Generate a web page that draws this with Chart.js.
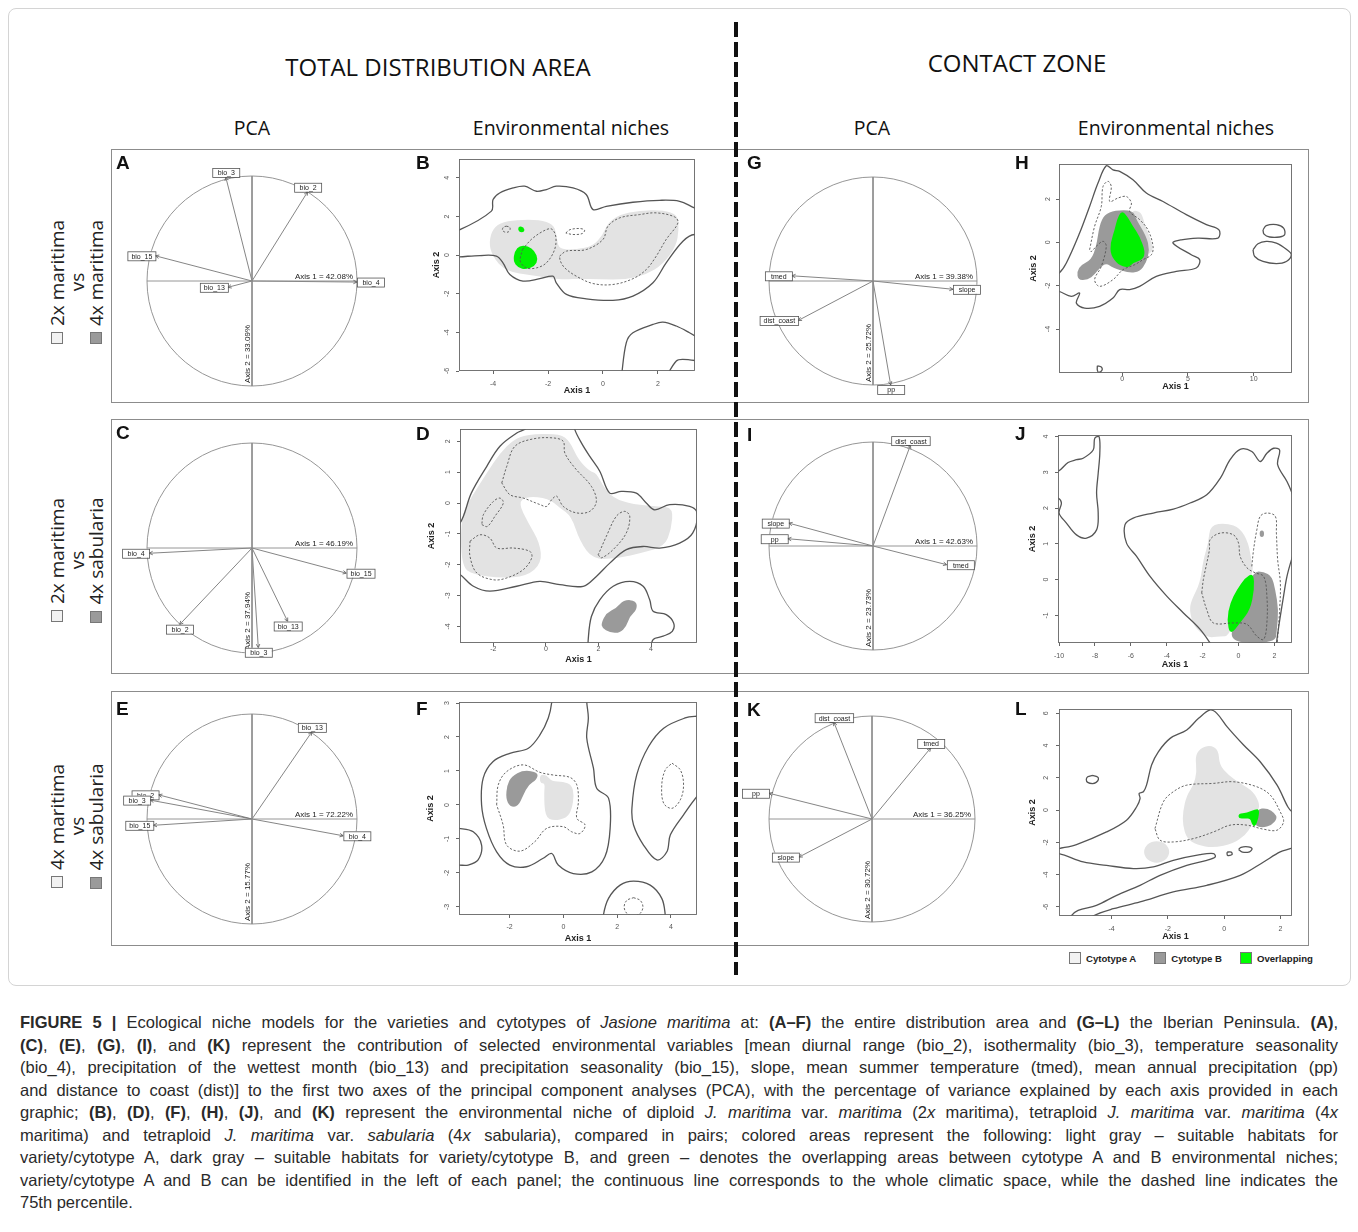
<!DOCTYPE html>
<html>
<head>
<meta charset="utf-8">
<title>Figure 5 - Jasione maritima niche models</title>
<script src="https://cdn.jsdelivr.net/npm/chart.js@4.4.1/dist/chart.umd.min.js"></script>
<style>
  body { margin: 0; background: #fff; width: 1358px; height: 1232px; position: relative; overflow: hidden;
         font-family: "Liberation Sans", Arial, sans-serif; color: #222; }
  .outer { position: absolute; left: 8px; top: 8px; width: 1341px; height: 976px; border: 1px solid #d4d4d4; border-radius: 8px; }
  .frame { position: absolute; left: 111px; width: 1196px; border: 1px solid #8c8c8c; background: #fff; }
  .head { position: absolute; font-family: "Open Sans", sans-serif; color: #111; transform: translateX(-50%); white-space: nowrap; line-height: 1; font-weight: 500; }
  .big { font-size: 24px; }
  .sub { font-size: 19.5px; }
  .letter { position: absolute; font: bold 19px "Liberation Sans", Arial, sans-serif; line-height: 1; color: #111; }
  .rowlab { position: absolute; width: 220px; height: 60px; transform: rotate(-90deg); text-align: center;
            font-family: "Open Sans", sans-serif; font-size: 19px; line-height: 19.5px; font-weight: 500; color: #222; white-space: nowrap; }
  .sq { display: inline-block; width: 10px; height: 10px; border: 1px solid #777; vertical-align: 1px; margin-right: 6px; }
  .sqA { background: #f2f2f2; }
  .sqB { background: #9a9a9a; }
  .sqG { background: #00ff00; }
  .dash { position: absolute; left: 734px; top: 22px; width: 4px; height: 953px;
          background: repeating-linear-gradient(to bottom, #111 0 15px, transparent 15px 20px); }
  .legend { position: absolute; left: 1069px; top: 952px; font: bold 9.6px "Liberation Sans", Arial, sans-serif; color: #222; white-space: nowrap; }
  .legend span { margin-right: 18px; }
  .legend .sq { width: 10px; height: 10px; margin-right: 5px; vertical-align: -2px; }
  .cap { position: absolute; left: 20px; width: 1318px; font-family: "Liberation Sans", Arial, sans-serif; font-size: 16.5px; line-height: 22.5px; color: #2a2a2a; }
  .cap div { white-space: nowrap; }
  canvas { position: absolute; }
</style>
</head>
<body>
<div class="outer"></div>

<div class="head big" style="left:438px; top:55px;">TOTAL DISTRIBUTION AREA</div>
<div class="head big" style="left:1017px; top:51px;">CONTACT ZONE</div>
<div class="head sub" style="left:252px; top:118px;">PCA</div>
<div class="head sub" style="left:571px; top:118px;">Environmental niches</div>
<div class="head sub" style="left:872px; top:118px;">PCA</div>
<div class="head sub" style="left:1176px; top:118px;">Environmental niches</div>

<div class="frame" style="top:149px; height:252px;"></div>
<div class="frame" style="top:419px; height:253px;"></div>
<div class="frame" style="top:691px; height:253px;"></div>

<div class="rowlab" style="left:-32px; top:252px;"><span class="sq sqA"></span>2x maritima<br>vs<br><span class="sq sqB"></span>4x maritima</div>
<div class="rowlab" style="left:-32px; top:530px;"><span class="sq sqA"></span>2x maritima<br>vs<br><span class="sq sqB"></span>4x sabularia</div>
<div class="rowlab" style="left:-32px; top:796px;"><span class="sq sqA"></span>4x maritima<br>vs<br><span class="sq sqB"></span>4x sabularia</div>

<div class="dash"></div>

<div class="legend"><span><i class="sq sqA"></i>Cytotype A</span><span><i class="sq sqB"></i>Cytotype B</span><span style="margin-right:0"><i class="sq sqG"></i>Overlapping</span></div>

<div class="cap" style="top:1011px;">
  <div class="fit"><b>FIGURE 5 |</b> Ecological niche models for the varieties and cytotypes of <i>Jasione maritima</i> at: <b>(A–F)</b> the entire distribution area and <b>(G–L)</b> the Iberian Peninsula. <b>(A)</b>,</div>
  <div class="fit"><b>(C)</b>, <b>(E)</b>, <b>(G)</b>, <b>(I)</b>, and <b>(K)</b> represent the contribution of selected environmental variables [mean diurnal range (bio_2), isothermality (bio_3), temperature seasonality</div>
  <div class="fit">(bio_4), precipitation of the wettest month (bio_13) and precipitation seasonality (bio_15), slope, mean summer temperature (tmed), mean annual precipitation (pp)</div>
  <div class="fit">and distance to coast (dist)] to the first two axes of the principal component analyses (PCA), with the percentage of variance explained by each axis provided in each</div>
  <div class="fit">graphic; <b>(B)</b>, <b>(D)</b>, <b>(F)</b>, <b>(H)</b>, <b>(J)</b>, and <b>(K)</b> represent the environmental niche of diploid <i>J. maritima</i> var. <i>maritima</i> (2<i>x</i> maritima), tetraploid <i>J. maritima</i> var. <i>maritima</i> (4<i>x</i></div>
  <div class="fit">maritima) and tetraploid <i>J. maritima</i> var. <i>sabularia</i> (4<i>x</i> sabularia), compared in pairs; colored areas represent the following: light gray – suitable habitats for</div>
  <div class="fit">variety/cytotype A, dark gray – suitable habitats for variety/cytotype B, and green – denotes the overlapping areas between cytotype A and B environmental niches;</div>
  <div class="fit">variety/cytotype A and B can be identified in the left of each panel; the continuous line corresponds to the whole climatic space, while the dashed line indicates the</div>
  <div>75th percentile.</div>
</div>

<script>
// PCA loadings (correlation circle coordinates)
const pcaA_vars = ['bio_3', 'bio_2', 'bio_15', 'bio_13', 'bio_4'];
const pcaA_x = [-0.25, 0.53, -0.92, -0.23, 1.0];
const pcaA_y = [0.99, 0.85, 0.24, -0.06, -0.01];
const pcaA_axes = ['Axis 1 = 42.08%', 'Axis 2 = 33.09%'];

const pcaC_vars = ['bio_4', 'bio_15', 'bio_13', 'bio_3', 'bio_2'];
const pcaC_x = [-0.98, 0.90, 0.34, 0.06, -0.69];
const pcaC_y = [-0.05, -0.24, -0.70, -0.95, -0.73];
const pcaC_axes = ['Axis 1 = 46.19%', 'Axis 2 = 37.94%'];

const pcaE_vars = ['bio_13', 'bio_2', 'bio_3', 'bio_15', 'bio_4'];
const pcaE_x = [0.57, -0.89, -0.97, -0.94, 0.87];
const pcaE_y = [0.83, 0.23, 0.18, -0.06, -0.16];
const pcaE_axes = ['Axis 1 = 72.22%', 'Axis 2 = 15.77%'];

const pcaG_vars = ['tmed', 'slope', 'dist_coast', 'pp'];
const pcaG_x = [-0.78, 0.77, -0.72, 0.17];
const pcaG_y = [0.05, -0.08, -0.38, -1.0];
const pcaG_axes = ['Axis 1 = 39.38%', 'Axis 2 = 25.72%'];

const pcaI_vars = ['dist_coast', 'slope', 'pp', 'tmed'];
const pcaI_x = [0.36, -0.81, -0.82, 0.71];
const pcaI_y = [0.97, 0.22, 0.07, -0.18];
const pcaI_axes = ['Axis 1 = 42.63%', 'Axis 2 = 23.73%'];

const pcaK_vars = ['dist_coast', 'tmed', 'pp', 'slope'];
const pcaK_x = [-0.37, 0.57, -1.0, -0.71];
const pcaK_y = [0.94, 0.69, 0.25, -0.37];
const pcaK_axes = ['Axis 1 = 36.25%', 'Axis 2 = 30.72%'];

// Niche panel B (2x vs 4x maritima, total area)
const B_light = [[-4.15,0.47],[-4.06,1.24],[-3.76,1.67],[-3.15,1.84],[-2.30,1.84],[-1.82,1.59],[-1.70,1.16],[-1.64,0.47],[-1.45,0.29],[-0.97,0.29],[-0.36,0.47],[0,1.07],[0.18,1.67],[0.61,2.10],[1.33,2.31],[2.18,2.33],[2.73,2.10],[2.76,1.33],[2.67,0.47],[2.18,-0.48],[1.58,-1.0],[0.85,-1.26],[-0.12,-1.26],[-0.85,-1.22],[-1.39,-1.26],[-1.82,-1.22],[-2.30,-1.12],[-2.79,-1.0],[-3.27,-0.91],[-3.64,-0.66],[-3.94,-0.22]];
const B_green1 = [[-3.21,0.21],[-3.03,0.50],[-2.73,0.47],[-2.48,0.21],[-2.36,-0.22],[-2.48,-0.57],[-2.79,-0.74],[-3.09,-0.66],[-3.27,-0.31]];
const B_green2 = [[-3.09,1.5],[-2.88,1.47],[-2.85,1.19],[-3.07,1.19]];
const B_solidTop = [[-5.6,1.3],[-5.24,1.3],[-4.06,2.28],[-4.0,2.88],[-3.76,3.22],[-3.27,3.48],[-2.85,3.57],[-2.42,3.31],[-2.06,3.40],[-1.70,3.57],[-1.09,3.48],[-0.61,3.14],[-0.36,2.36],[0.12,2.53],[1.09,2.74],[2.06,2.84],[2.79,2.79],[3.33,2.45],[3.8,2.2]];
const B_solidLow = [[3.8,0.8],[3.33,1.07],[2.91,0.72],[2.30,-0.40],[1.82,-1.43],[1.09,-2.12],[0.36,-2.34],[-0.61,-2.26],[-1.33,-2.03],[-1.70,-1.43],[-1.82,-1.09],[-2.30,-1.22],[-2.91,-1.34],[-3.39,-1.0],[-3.64,-0.40],[-3.88,-0.05],[-4.48,-0.02],[-5.24,-0.09],[-5.6,-0.1]];
const B_solid2 = [[0.67,-6.3],[0.85,-4.53],[1.09,-4.02],[1.82,-3.59],[2.18,-3.47],[2.67,-3.67],[3.15,-4.02],[3.6,-4.4]];
const B_solid3 = [[2.30,-6.3],[2.67,-5.48],[2.91,-5.40],[3.6,-5.5]];
const B_dash1 = [[-3.52,1.5],[-3.40,1.45],[-3.38,1.33],[-3.45,1.2],[-3.58,1.2],[-3.66,1.3],[-3.62,1.45]];
const B_dash2 = [[-2.93,0.29],[-2.61,0.81],[-2.18,1.24],[-1.88,1.36],[-1.72,0.98],[-1.76,0.29],[-2.06,-0.40],[-2.42,-0.66],[-2.79,-0.66],[-3.01,-0.31]];
const B_dash3 = [[-1.35,1.15],[-1.2,1.32],[-0.85,1.38],[-0.67,1.3],[-0.75,1.12],[-1.1,1.07]];
const B_dash4 = [[-1.58,-0.05],[-1.33,0.21],[-0.61,0.29],[0,0.81],[0.18,1.5],[0.61,1.93],[1.33,2.10],[1.94,2.19],[2.61,1.98],[2.73,1.67],[2.30,0.81],[1.94,-0.05],[1.58,-0.74],[1.09,-1.22],[0.36,-1.52],[-0.36,-1.47],[-0.97,-1.09],[-1.39,-0.66],[-1.55,-0.31]];

// Niche panel D (2x maritima vs 4x sabularia, total area)
const D_light = [[-3.24,-0.43],[-2.82,0.22],[-2.25,0.97],[-1.75,1.62],[-1.24,2.05],[-0.73,2.22],[0.53,2.25],[0.91,2.0],[1.23,1.41],[1.67,1.03],[1.92,0.97],[2.18,0.54],[2.56,0.16],[3.32,-0.05],[4.33,-0.11],[4.84,-0.16],[4.77,-0.86],[4.51,-1.41],[3.63,-1.62],[2.81,-1.78],[1.80,-1.84],[1.29,-1.24],[0.97,-0.43],[0.53,-0.16],[0.09,0.16],[-0.73,0.22],[-1.05,0],[-0.67,-0.65],[-0.23,-1.30],[-0.16,-1.95],[-0.73,-2.38],[-1.75,-2.43],[-2.76,-2.32],[-3.22,-2.05]];
const D_dark = [[2.11,-3.89],[2.30,-3.57],[2.68,-3.41],[2.96,-3.14],[3.44,-3.16],[3.47,-3.46],[3.19,-3.68],[3.06,-4.0],[2.81,-4.22],[2.43,-4.2],[2.14,-4.05]];
const D_solid1 = [[-3.6,-0.6],[-3.27,-0.65],[-2.84,0.32],[-2.25,1.19],[-1.75,1.84],[-1.11,2.27],[-0.73,2.45],[-0.9,2.8],[1.0,2.8],[1.10,2.38],[1.35,1.95],[1.67,1.51],[2.05,1.03],[2.43,0.32],[2.87,0.38],[3.44,0.32],[3.82,0],[4.14,-0.22],[4.71,-0.05],[5.47,-0.11],[5.75,-0.32],[5.59,-0.97],[5.09,-1.30],[4.33,-1.46],[3.70,-1.41],[3.06,-1.51],[2.43,-1.95],[1.92,-2.38],[1.42,-2.70],[0.53,-2.65],[-0.23,-2.54],[-1.11,-2.70],[-2.13,-2.86],[-2.76,-2.70],[-3.27,-2.32],[-3.6,-2.2]];
const D_solid2 = [[1.61,-4.9],[1.61,-4.43],[1.73,-3.68],[2.05,-3.14],[2.56,-2.70],[3.19,-2.54],[3.70,-2.70],[3.95,-3.14],[4.08,-3.51],[4.58,-3.62],[4.86,-3.89],[4.81,-4.16],[4.46,-4.32],[4.08,-4.43],[3.95,-4.9]];
const D_dash1 = [[-1.68,0.65],[-1.49,1.19],[-1.18,1.84],[-0.48,2.08],[0.28,2.11],[0.66,2.0],[0.72,1.62],[1.10,1.14],[1.73,0.54],[1.92,0.05],[1.67,-0.27],[1.16,-0.32],[0.66,-0.11],[0.41,0.22],[0.22,0.11],[0.03,-0.11],[-0.23,-0.05],[-0.86,0.16],[-1.37,0.27]];
const D_dash2 = [[-2.44,-0.70],[-2.23,-0.76],[-1.94,-0.43],[-1.62,0],[-1.75,0.16],[-2.0,0.05],[-2.38,-0.38]];
const D_dash3 = [[-2.89,-1.24],[-2.51,-1.03],[-2.13,-1.14],[-1.87,-1.46],[-1.24,-1.46],[-0.61,-1.57],[-0.54,-1.78],[-0.86,-2.16],[-1.49,-2.43],[-2.0,-2.49],[-2.63,-2.27],[-2.89,-1.73]];
const D_dash4 = [[1.99,-1.68],[2.11,-1.78],[2.56,-1.51],[3.06,-0.97],[3.19,-0.43],[3.0,-0.27],[2.68,-0.43],[2.30,-1.08]];

// Niche panel F (4x maritima vs 4x sabularia, total area)
const F_light = [[-0.87,0.90],[-0.62,0.88],[-0.43,0.69],[0,0.69],[0.31,0.59],[0.40,0.29],[0.31,-0.15],[0.12,-0.39],[-0.37,-0.47],[-0.68,-0.34],[-0.72,0.34],[-0.68,0.64],[-0.87,0.64]];
const F_dark = [[-2.09,0.59],[-1.93,0.84],[-1.49,1.03],[-0.93,0.96],[-0.99,0.74],[-1.30,0.59],[-1.49,0.29],[-1.68,-0.05],[-1.99,-0.05],[-2.14,0.20]];
const F_solid1 = [[-0.43,3.4],[-0.43,3.03],[-0.56,2.56],[-0.87,2.06],[-1.30,1.67],[-1.99,1.52],[-2.61,1.28],[-2.98,0.79],[-3.04,0],[-2.86,-0.69],[-2.48,-1.38],[-1.99,-1.77],[-1.37,-1.82],[-0.75,-1.57],[-0.43,-1.43],[-0.19,-1.77],[0.37,-2.02],[1.06,-1.97],[1.55,-1.52],[1.74,-0.69],[1.68,0.20],[1.24,0.49],[1.12,1.08],[0.87,1.97],[0.93,2.56],[0.87,3.03],[0.87,3.4]];
const F_solid2 = [[-4.2,-0.69],[-3.88,-0.69],[-3.35,-0.79],[-3.04,-1.18],[-3.17,-1.62],[-3.54,-1.77],[-3.88,-1.77],[-4.2,-1.77]];
const F_solid3 = [[5.3,2.61],[4.97,2.61],[4.53,2.56],[3.73,2.26],[3.17,1.72],[2.73,0.89],[2.55,-0.10],[2.61,-0.59],[2.98,-1.18],[3.48,-1.62],[3.85,-1.38],[3.98,-0.88],[4.47,-0.29],[4.97,0.25],[5.3,0.5]];
const F_solid4 = [[1.49,-3.6],[1.49,-3.24],[1.68,-2.75],[2.11,-2.36],[2.61,-2.24],[3.23,-2.36],[3.66,-2.75],[3.79,-3.24],[3.79,-3.6]];
const F_dash1 = [[-2.48,0],[-2.42,0.59],[-2.11,0.98],[-1.49,1.18],[-0.87,0.96],[-0.37,0.88],[0.25,0.81],[0.50,0.59],[0.56,0.10],[0.50,-0.39],[0.81,-0.59],[0.62,-0.84],[0.31,-0.79],[0,-0.64],[-0.62,-0.69],[-1.06,-1.08],[-1.61,-1.36],[-2.11,-1.18],[-2.24,-0.59]];
const F_dash2 = [[4.04,1.23],[4.35,1.03],[4.47,0.59],[4.35,0.15],[4.04,-0.10],[3.73,0.05],[3.66,0.59],[3.79,1.03]];
const F_dash3 = [[2.61,-2.73],[2.86,-2.81],[2.96,-3.0],[2.86,-3.19],[2.61,-3.27],[2.36,-3.19],[2.26,-3.0],[2.36,-2.81]];

// Niche panel H (2x vs 4x maritima, contact zone)
const H_light = [[0.69,1.48],[1.45,1.43],[1.70,0.82],[2.08,0.28],[2.39,-0.34],[1.95,-0.57],[1.57,-0.49],[1.2,0.3],[0.9,1.0]];
const H_dark = [[-3.45,-1.34],[-3.12,-1.03],[-2.36,-0.80],[-1.98,-0.18],[-1.73,0.82],[-1.35,1.28],[-0.58,1.48],[0.81,1.48],[1.07,1.05],[1.83,0.28],[2.08,-0.34],[1.83,-0.95],[1.32,-1.34],[0.56,-1.42],[-0.71,-1.18],[-1.22,-0.95],[-1.73,-1.18],[-2.11,-1.49],[-2.62,-1.72],[-3.37,-1.75]];
const H_green = [[-0.08,1.46],[0.30,1.28],[0.81,0.74],[1.32,0.28],[1.75,-0.42],[1.57,-0.80],[0.81,-0.95],[0.43,-1.18],[-0.33,-1.03],[-0.89,-0.57],[-0.91,-0.03],[-0.58,0.58],[-0.41,1.05]];
const H_solid1 = [[-5.2,-1.42],[-4.82,-1.42],[-4.26,-0.95],[-3.25,0.43],[-2.49,1.66],[-1.85,2.74],[-1.22,3.54],[-0.71,3.35],[-0.20,3.28],[0.81,2.89],[1.83,2.28],[3.10,1.89],[4.87,1.28],[6.40,0.82],[7.36,0.58],[7.29,0.20],[5.76,0.20],[4.49,0.12],[3.86,-0.03],[5.25,-0.57],[5.89,-0.80],[5.63,-1.18],[4.11,-1.34],[2.59,-1.57],[1.32,-2.03],[0.56,-2.18],[-0.20,-2.18],[-0.71,-2.57],[-1.73,-2.95],[-2.87,-3.03],[-3.50,-2.80],[-3.25,-2.34],[-3.88,-2.49],[-4.82,-2.26],[-5.2,-2.26]];
const H_solid2 = [[10.71,0.58],[10.96,0.77],[11.73,0.82],[12.28,0.66],[12.36,0.35],[11.98,0.25],[11.22,0.25],[10.79,0.38]];
const H_solid3 = [[9.95,-0.34],[10.33,-0.06],[10.96,0.05],[11.73,-0.03],[12.54,-0.34],[12.87,-0.57],[12.49,-0.88],[11.73,-0.98],[10.71,-0.88],[10.08,-0.65]];
const H_solid4 = [[-1.9,-5.7],[-1.6,-5.75],[-1.55,-5.9],[-1.8,-6.0],[-1.9,-5.9]];
const H_dash1 = [[-2.49,-0.34],[-2.11,0.74],[-1.60,1.66],[-1.47,2.58],[-1.09,2.82],[-0.84,2.58],[-0.96,1.89],[-0.33,2.05],[0.30,2.12],[0.69,1.82],[0.56,1.43],[1.32,1.05],[1.95,0.58],[2.34,-0.18],[2.21,-0.57],[1.57,-0.80],[0.94,-1.03],[0.05,-1.26],[-0.71,-1.72],[-1.73,-2.03],[-2.11,-1.72],[-1.60,-1.11],[-1.22,-0.18],[-1.47,0.05],[-1.98,-0.18],[-2.36,-0.42]];

// Niche panel J (2x maritima vs 4x sabularia, contact zone)
const J_light = [[-1.58,1.53],[-0.65,1.58],[0.09,1.44],[0.56,1.02],[0.74,0.46],[0.84,0.23],[-0.47,-1.58],[-1.02,-1.58],[-1.77,-1.63],[-2.51,-1.30],[-2.74,-0.84],[-2.61,-0.56],[-2.14,-0.09],[-1.96,0.56],[-1.68,1.02]];
const J_dark = [[0.84,0.23],[1.40,0.23],[1.86,0.09],[2.05,-0.28],[2.23,-0.84],[2.14,-1.39],[2.05,-1.77],[-0.47,-1.77],[-0.28,-1.21],[0.28,-0.46]];
const J_dark2 = [[1.18,1.37],[1.42,1.37],[1.42,1.19],[1.18,1.19]];
const J_green = [[0.84,0.19],[0.88,-0.28],[0.65,-0.84],[0.09,-1.21],[-0.47,-1.56],[-0.65,-1.12],[-0.47,-0.65],[-0.09,-0.28],[0.37,0.05]];
const J_solid1 = [[-10.4,2.28],[-10.06,2.28],[-9.87,2.14],[-10.0,1.86],[-9.59,1.58],[-9.03,1.25],[-8.47,1.16],[-7.91,1.39],[-7.82,1.86],[-7.91,2.42],[-7.82,2.97],[-7.73,3.53],[-7.77,3.99],[-8.01,3.95],[-8.10,3.62],[-8.66,3.39],[-9.03,3.35],[-9.50,3.27],[-10.06,3.02],[-10.4,3.02]];
const J_solid2 = [[-1.40,-1.9],[-2.14,-1.39],[-3.07,-0.93],[-4.0,-0.46],[-4.93,0.09],[-5.68,0.65],[-6.24,1.02],[-6.33,1.53],[-5.87,1.72],[-4.75,1.86],[-3.63,1.97],[-2.70,2.14],[-1.77,2.37],[-1.02,2.83],[-0.47,3.35],[0.09,3.64],[0.74,3.58],[1.21,3.30],[1.58,3.53],[1.96,3.67],[2.29,3.62],[2.18,3.21],[2.70,2.74],[2.98,2.42],[3.2,2.1]];
const J_solid3 = [[3.2,0.9],[2.98,0.60],[2.70,0.09],[2.51,-0.46],[2.33,-1.02],[2.14,-1.67],[2.1,-1.9]];
const J_dash1 = [[-2.05,-0.37],[-1.96,0],[-1.77,0.46],[-1.62,0.84],[-1.58,1.12],[-1.02,1.30],[-0.28,1.25],[0,1.02],[0.09,0.65],[0.47,0.33],[0.93,0.19],[1.40,0.09],[1.58,-0.46],[1.58,-1.21],[1.40,-1.67],[1.02,-1.58],[0.47,-1.25],[-0.28,-1.21],[-1.40,-1.21],[-1.77,-0.84]];
const J_dash2 = [[0.74,0.37],[0.84,0.84],[1.02,1.39],[1.21,1.77],[1.58,1.86],[2.05,1.77],[2.11,1.30],[2.18,0.56],[2.33,-0.09],[2.29,-0.84],[2.14,-1.9]];

// Niche panel L (4x maritima vs 4x sabularia, contact zone)
const L_light1 = [[-0.97,2.38],[-1.03,3.31],[-0.86,3.83],[-0.50,4.04],[-0.20,3.73],[-0.17,2.80],[0.15,2.17],[0.57,1.66],[1.05,1.14],[1.28,0.31],[1.16,-0.10],[0.99,-0.93],[0.75,-1.55],[0.33,-2.07],[-0.38,-2.34],[-0.97,-2.17],[-1.33,-1.76],[-1.47,-0.93],[-1.47,-0.10],[-1.33,0.93],[-1.09,1.55]];
const L_light2 = [[-2.40,-1.87],[-2.06,-2.08],[-1.92,-2.59],[-2.06,-3.1],[-2.40,-3.31],[-2.74,-3.1],[-2.88,-2.59],[-2.74,-2.08]];
const L_dark = [[1.16,0.06],[1.52,0.14],[1.82,-0.21],[1.88,-0.52],[1.70,-0.93],[1.34,-1.10],[1.07,-0.93]];
const L_green = [[0.51,-0.21],[0.81,-0.17],[1.10,0.06],[1.25,0.06],[1.22,-0.52],[1.10,-1.04],[0.99,-0.93],[0.93,-0.52],[0.75,-0.52],[0.51,-0.52]];
const L_solid1 = [[-6.2,-2.5],[-5.87,-2.38],[-5.25,-2.13],[-4.18,-1.35],[-3.47,-0.62],[-3.11,0.21],[-2.99,0.72],[-3.02,1.04],[-2.87,1.14],[-2.76,1.55],[-2.58,2.80],[-2.34,3.62],[-1.92,4.45],[-1.33,4.97],[-0.91,5.69],[-0.50,6.21],[-0.26,6.00],[0.10,5.18],[0.69,4.04],[1.28,3.0],[1.88,1.55],[2.26,0.21],[2.41,-0.10],[2.6,-0.3]];
const L_solid2 = [[2.6,-2.2],[2.35,-2.38],[1.99,-2.59],[1.40,-3.21],[0.57,-4.04],[-0.62,-4.66],[-1.81,-5.07],[-2.99,-5.69],[-3.94,-6.11],[-4.66,-6.56],[-4.8,-6.9]];
const L_solid3 = [[-6.2,-2.75],[-5.87,-2.69],[-5.01,-3.21],[-4.18,-3.42],[-3.23,-3.62],[-2.52,-3.52],[-1.81,-3.11],[-0.86,-2.76],[-0.38,-2.69],[-0.32,-2.90],[-0.62,-3.11],[-1.33,-3.42],[-2.28,-4.04],[-2.99,-4.66],[-3.82,-5.28],[-4.54,-5.90],[-5.19,-6.21],[-5.43,-6.54],[-5.5,-6.9]];
const L_solid4 = [[-4.68,2.15],[-4.5,2.05],[-4.47,1.9],[-4.55,1.72],[-4.68,1.65],[-4.85,1.72],[-4.9,1.9],[-4.85,2.07]];
const L_solid5 = [[0.1,-2.6],[0.25,-2.6],[0.28,-2.75],[0.12,-2.8]];
const L_solid6 = [[0.51,-2.44],[0.6,-2.3],[0.85,-2.27],[0.99,-2.38],[0.9,-2.58],[0.65,-2.6]];
const L_dash1 = [[-2.46,-1.14],[-2.16,0.52],[-1.81,1.14],[-1.33,1.55],[-0.38,1.66],[0.33,1.76],[1.16,1.45],[1.64,0.93],[1.99,-0.10],[2.11,-0.72],[1.88,-1.24],[1.40,-1.18],[0.81,-0.93],[0.21,-0.93],[-0.38,-1.35],[-1.09,-1.76],[-1.81,-1.97],[-2.28,-1.86]];

// Axis ranges and tick values of the niche plots
const nichePanels = [
  { id: 'B', xr: [-5.24, 3.35], yr: [-6.0, 4.98], xt: [-4, -2, 0, 2], yt: [-6, -4, -2, 0, 2, 4],
    light: [B_light], dark: [], green: [B_green1, B_green2],
    solid: [B_solidTop, B_solidLow, B_solid2, B_solid3], solidLoop: [], dashed: [], dashedLoop: [B_dash1, B_dash2, B_dash3, B_dash4] },
  { id: 'D', xr: [-3.27, 5.75], yr: [-4.54, 2.4], xt: [-2, 0, 2, 4], yt: [-4, -3, -2, -1, 0, 1, 2],
    light: [D_light], dark: [D_dark], green: [],
    solid: [D_solid1, D_solid2], solidLoop: [], dashed: [], dashedLoop: [D_dash1, D_dash2, D_dash3, D_dash4] },
  { id: 'F', xr: [-3.88, 4.97], yr: [-3.24, 3.03], xt: [-2, 0, 2, 4], yt: [-3, -2, -1, 0, 1, 2, 3],
    light: [F_light], dark: [F_dark], green: [],
    solid: [F_solid1, F_solid2, F_solid3, F_solid4], solidLoop: [], dashed: [], dashedLoop: [F_dash1, F_dash2, F_dash3] },
  { id: 'H', xr: [-4.82, 12.92], yr: [-6.03, 3.62], xt: [0, 5, 10], yt: [-4, -2, 0, 2],
    light: [H_light], dark: [H_dark], green: [H_green],
    solid: [H_solid1], solidLoop: [H_solid2, H_solid3, H_solid4], dashed: [], dashedLoop: [H_dash1] },
  { id: 'J', xr: [-10.06, 2.98], yr: [-1.77, 4.04], xt: [-10, -8, -6, -4, -2, 0, 2], yt: [-1, 0, 1, 2, 3, 4],
    light: [J_light], dark: [J_dark, J_dark2], green: [J_green],
    solid: [J_solid1, J_solid2, J_solid3], solidLoop: [], dashed: [J_dash2], dashedLoop: [J_dash1] },
  { id: 'L', xr: [-5.87, 2.41], yr: [-6.56, 6.27], xt: [-4, -2, 0, 2], yt: [-6, -4, -2, 0, 2, 4, 6],
    light: [L_light1, L_light2], dark: [L_dark], green: [L_green],
    solid: [L_solid1, L_solid2, L_solid3], solidLoop: [L_solid4, L_solid5, L_solid6], dashed: [], dashedLoop: [L_dash1] }
];

const pcaPanels = [
  { id: 'A', vars: pcaA_vars, xs: pcaA_x, ys: pcaA_y, axes: pcaA_axes },
  { id: 'C', vars: pcaC_vars, xs: pcaC_x, ys: pcaC_y, axes: pcaC_axes },
  { id: 'E', vars: pcaE_vars, xs: pcaE_x, ys: pcaE_y, axes: pcaE_axes },
  { id: 'G', vars: pcaG_vars, xs: pcaG_x, ys: pcaG_y, axes: pcaG_axes },
  { id: 'I', vars: pcaI_vars, xs: pcaI_x, ys: pcaI_y, axes: pcaI_axes },
  { id: 'K', vars: pcaK_vars, xs: pcaK_x, ys: pcaK_y, axes: pcaK_axes }
];

// Page layout (pixels)
const pcaLayout = {
  A: { cx: 252, cy: 281, r: 105 }, C: { cx: 252, cy: 548, r: 105 }, E: { cx: 252, cy: 819, r: 105 },
  G: { cx: 873, cy: 281, r: 104 }, I: { cx: 873, cy: 546, r: 104 }, K: { cx: 872, cy: 819, r: 103 }
};
// plot box, gap of x tick labels, Axis 1 title and Axis 2 title
const nicheLayout = {
  B: { left: 459, top: 159, right: 695, bottom: 371, xtick: 13, ytick: 12, t1: 20, t2: 22 },
  D: { left: 460, top: 429, right: 697, bottom: 643, xtick: 6, ytick: 12, t1: 17, t2: 28 },
  F: { left: 459, top: 702, right: 697, bottom: 915, xtick: 12, ytick: 12, t1: 24, t2: 28 },
  H: { left: 1059, top: 164, right: 1292, bottom: 373, xtick: 6, ytick: 11, t1: 14, t2: 25 },
  J: { left: 1058, top: 435, right: 1292, bottom: 643, xtick: 13, ytick: 12, t1: 22, t2: 25 },
  L: { left: 1059, top: 709, right: 1292, bottom: 916, xtick: 13, ytick: 13, t1: 21, t2: 26 }
};
const letterPos = {
  A: [116, 153], B: [416, 153], G: [747, 153], H: [1015, 153],
  C: [116, 423], D: [416, 424], I: [747, 425], J: [1015, 424],
  E: [116, 699], F: [416, 699], K: [747, 700], L: [1015, 699]
};

const FONT = '"Liberation Sans", Arial, sans-serif';
const LIGHT = '#e3e3e3';
const DARK = '#9a9a9a';
const GREEN = '#00f000';
const LINE = '#555555';

Chart.defaults.font.family = FONT;
Chart.defaults.animation = false;

function toXY(arr) {
  return arr.map(p => ({ x: p[0], y: p[1] }));
}

function addCanvas(left, top, w, h) {
  const c = document.createElement('canvas');
  c.width = w;
  c.height = h;
  c.style.left = left + 'px';
  c.style.top = top + 'px';
  c.style.width = w + 'px';
  c.style.height = h + 'px';
  document.body.appendChild(c);
  return c;
}

// Fill closed areas (niche occupancy) behind the contour lines
const areaFill = {
  id: 'areaFill',
  beforeDatasetsDraw(chart) {
    const { ctx, chartArea: a } = chart;
    ctx.save();
    ctx.beginPath();
    ctx.rect(a.left, a.top, a.right - a.left, a.bottom - a.top);
    ctx.clip();
    chart.data.datasets.forEach((ds, i) => {
      if (!ds.areaColor) return;
      const pts = chart.getDatasetMeta(i).data;
      const n = pts.length;
      const mid = k => {
        const p = pts[k % n], q = pts[(k + 1) % n];
        return [(p.x + q.x) / 2, (p.y + q.y) / 2];
      };
      ctx.beginPath();
      let m = mid(0);
      ctx.moveTo(m[0], m[1]);
      for (let k = 1; k <= n; k++) {
        const p = pts[k % n];
        m = mid(k);
        ctx.quadraticCurveTo(p.x, p.y, m[0], m[1]);
      }
      ctx.closePath();
      ctx.fillStyle = ds.areaColor;
      ctx.fill();
    });
    ctx.restore();
  }
};

// Plot frame and rotated y tick labels, R style
const nicheFrame = {
  id: 'nicheFrame',
  afterDraw(chart) {
    const { ctx, chartArea: a } = chart;
    const s = chart.scales.y;
    const off = chart.options.plugins.nicheFrame.ytick;
    ctx.save();
    ctx.strokeStyle = '#666';
    ctx.lineWidth = 0.9;
    ctx.strokeRect(a.left + 0.5, a.top + 0.5, a.right - a.left - 1, a.bottom - a.top - 1);
    ctx.font = '7px ' + FONT;
    ctx.fillStyle = '#555';
    ctx.textAlign = 'center';
    ctx.textBaseline = 'middle';
    s.ticks.forEach(t => {
      ctx.save();
      ctx.translate(a.left - off, s.getPixelForValue(t.value));
      ctx.rotate(-Math.PI / 2);
      ctx.fillText(String(t.value), 0, 0);
      ctx.restore();
    });
    ctx.restore();
  }
};

function nicheChart(p) {
  const L = nicheLayout[p.id];
  const padL = 40, padT = 6, padR = 6, padB = 34;
  const w = L.right - L.left + padL + padR;
  const h = L.bottom - L.top + padT + padB;
  const canvas = addCanvas(L.left - padL, L.top - padT, w, h);

  const datasets = [];
  const area = (arr, color) => datasets.push({ data: toXY(arr), areaColor: color, showLine: false, pointRadius: 0 });
  const line = (arr, closed, dashed) => {
    const pts = closed ? arr.concat([arr[0]]) : arr;
    datasets.push({
      data: toXY(pts), showLine: true, pointRadius: 0,
      borderColor: LINE, borderWidth: dashed ? 0.9 : 1.3,
      borderDash: dashed ? [2.2, 1.8] : [], tension: 0.35
    });
  };
  p.light.forEach(a => area(a, LIGHT));
  p.dark.forEach(a => area(a, DARK));
  p.green.forEach(a => area(a, GREEN));
  p.solid.forEach(a => line(a, false, false));
  p.solidLoop.forEach(a => line(a, true, false));
  p.dashed.forEach(a => line(a, false, true));
  p.dashedLoop.forEach(a => line(a, true, true));

  const titleFont = { size: 9, weight: 'bold', family: FONT };
  new Chart(canvas, {
    type: 'scatter',
    data: { datasets },
    options: {
      responsive: false,
      animation: false,
      events: [],
      layout: { padding: { left: 0, top: padT, right: padR, bottom: 0 } },
      elements: { line: { capBezierPoints: false } },
      plugins: { legend: { display: false }, tooltip: { enabled: false }, nicheFrame: { ytick: L.ytick } },
      scales: {
        x: {
          type: 'linear', min: p.xr[0], max: p.xr[1],
          afterBuildTicks: s => { s.ticks = p.xt.map(v => ({ value: v })); },
          afterFit: s => { s.height = padB; },
          grid: { drawOnChartArea: false, tickLength: 3, color: '#666' },
          border: { display: false },
          ticks: { font: { size: 7 }, color: '#555', padding: L.xtick - 7.2, maxRotation: 0, autoSkip: false },
          title: { display: true, text: 'Axis 1', font: titleFont, color: '#222', padding: { top: 0, bottom: padB - L.t1 - 5.4 } }
        },
        y: {
          type: 'linear', min: p.yr[0], max: p.yr[1],
          afterBuildTicks: s => { s.ticks = p.yt.map(v => ({ value: v })); },
          afterFit: s => { s.width = padL; },
          grid: { drawOnChartArea: false, tickLength: 3, color: '#666' },
          border: { display: false },
          ticks: { display: false },
          title: { display: true, text: 'Axis 2', font: titleFont, color: '#222', padding: { top: padL - L.t2 - 5.4, bottom: 0 } }
        }
      }
    },
    plugins: [areaFill, nicheFrame]
  });
}

// Correlation circle: circle, arrow heads, variable boxes and axis captions
function pcaDecoration(p) {
  return {
    id: 'pcaDeco',
    afterDatasetsDraw(chart) {
      const ctx = chart.ctx;
      const sx = chart.scales.x, sy = chart.scales.y;
      const cx = sx.getPixelForValue(0), cy = sy.getPixelForValue(0);
      const r = sx.getPixelForValue(1) - cx;
      ctx.save();
      ctx.strokeStyle = '#8a8a8a';
      ctx.lineWidth = 0.9;
      ctx.beginPath();
      ctx.arc(cx, cy, r, 0, Math.PI * 2);
      ctx.stroke();

      ctx.font = '8px ' + FONT;
      ctx.fillStyle = '#222';
      ctx.textAlign = 'right';
      ctx.textBaseline = 'alphabetic';
      ctx.fillText(p.axes[0], cx + r - 4, cy - 2);
      ctx.save();
      ctx.translate(cx - 2, cy + r - 3);
      ctx.rotate(-Math.PI / 2);
      ctx.textAlign = 'left';
      ctx.fillText(p.axes[1], 0, 0);
      ctx.restore();

      p.vars.forEach((name, i) => {
        const dx = p.xs[i], dy = p.ys[i];
        const px = sx.getPixelForValue(dx), py = sy.getPixelForValue(dy);
        const ang = Math.atan2(py - cy, px - cx);
        ctx.strokeStyle = '#555';
        ctx.lineWidth = 0.8;
        ctx.beginPath();
        ctx.moveTo(px - 4 * Math.cos(ang - 0.45), py - 4 * Math.sin(ang - 0.45));
        ctx.lineTo(px, py);
        ctx.lineTo(px - 4 * Math.cos(ang + 0.45), py - 4 * Math.sin(ang + 0.45));
        ctx.stroke();

        ctx.font = '7px ' + FONT;
        const bw = Math.max(27, ctx.measureText(name).width + 7), bh = 9;
        let bx, by;
        if (Math.abs(dy) > Math.abs(dx) * 0.9) {
          bx = px - bw / 2;
          by = dy > 0 ? py - bh : py;
        } else {
          by = py - bh / 2;
          bx = dx > 0 ? px : px - bw;
        }
        ctx.fillStyle = '#fff';
        ctx.fillRect(bx, by, bw, bh);
        ctx.strokeStyle = '#555';
        ctx.strokeRect(bx + 0.5, by + 0.5, bw, bh);
        ctx.fillStyle = '#222';
        ctx.textAlign = 'center';
        ctx.textBaseline = 'middle';
        ctx.fillText(name, bx + bw / 2 + 0.5, by + bh / 2 + 1);
      });
      ctx.restore();
    }
  };
}

function pcaChart(p) {
  const L = pcaLayout[p.id];
  const w = 290, h = 250;
  const canvas = addCanvas(L.cx - w / 2, L.cy - h / 2, w, h);
  const datasets = [
    { data: [{ x: -1, y: 0 }, { x: 1, y: 0 }], borderColor: '#8a8a8a', borderWidth: 0.9 },
    { data: [{ x: 0, y: 1 }, { x: 0, y: -1 }], borderColor: '#8a8a8a', borderWidth: 0.9 }
  ];
  p.vars.forEach((v, i) => {
    datasets.push({ label: v, data: [{ x: 0, y: 0 }, { x: p.xs[i], y: p.ys[i] }], borderColor: '#666', borderWidth: 0.8 });
  });
  datasets.forEach(d => { d.showLine = true; d.pointRadius = 0; });

  new Chart(canvas, {
    type: 'scatter',
    data: { datasets },
    options: {
      responsive: false,
      animation: false,
      events: [],
      layout: { padding: 0 },
      plugins: { legend: { display: false }, tooltip: { enabled: false } },
      scales: {
        x: { type: 'linear', display: false, min: -w / 2 / L.r, max: w / 2 / L.r },
        y: { type: 'linear', display: false, min: -h / 2 / L.r, max: h / 2 / L.r }
      }
    },
    plugins: [pcaDecoration(p)]
  });
}

// Spread each caption line over the full width, like the justified original
function fitCaption() {
  const target = 1318;
  document.querySelectorAll('.cap .fit').forEach(d => {
    const range = document.createRange();
    range.selectNodeContents(d);
    const natural = range.getBoundingClientRect().width;
    const spaces = (d.textContent.trim().match(/ /g) || []).length;
    if (spaces) d.style.wordSpacing = ((target - natural) / spaces) + 'px';
  });
}

document.addEventListener('DOMContentLoaded', () => {
  pcaPanels.forEach(pcaChart);
  nichePanels.forEach(nicheChart);

  Object.entries(letterPos).forEach(([k, pos]) => {
    const d = document.createElement('div');
    d.className = 'letter';
    d.textContent = k;
    d.style.left = pos[0] + 'px';
    d.style.top = pos[1] + 'px';
    document.body.appendChild(d);
  });
  fitCaption();
});
</script>
</body>
</html>
